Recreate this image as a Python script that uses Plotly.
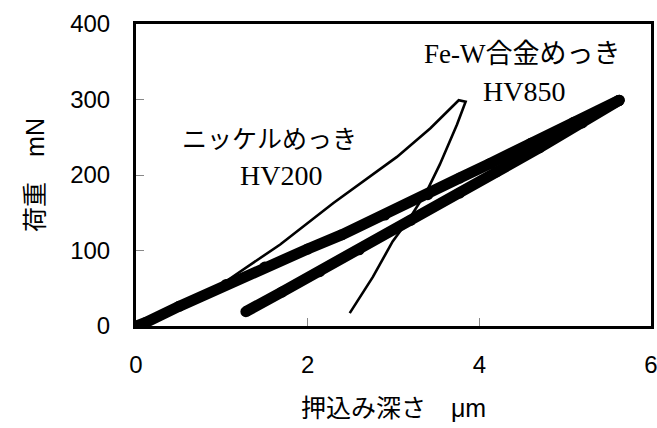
import plotly.graph_objects as go

# Fe-W alloy plating (HV850): loading / unloading
few_load_x = [0, 0.12, 0.5, 1.05, 1.5, 2.0, 2.4, 2.9, 3.4, 3.77, 4.12, 4.6, 5.1, 5.63]
few_load_y = [0, 5, 26, 55, 78, 102, 121, 147, 174, 196, 215, 242, 270, 299]
few_unload_x = [5.63, 5.2, 4.7, 4.2, 3.77, 3.2, 2.6, 2.14, 1.7, 1.28]
few_unload_y = [299, 269, 236, 204, 176, 140, 101, 72, 45, 19]

# Nickel plating (HV200): loading / unloading
ni_x = [0, 0.5, 0.85, 1.02, 1.68, 2.3, 3.04, 3.43, 3.76, 3.84,
        3.74, 3.54, 3.39, 3.19, 2.99, 2.76, 2.49]
ni_y = [0, 26, 45, 57, 108, 163, 224, 262, 299, 297,
        267, 214, 179, 143, 112, 65, 17]

x_ticks = [0, 2, 4, 6]
y_ticks = [0, 100, 200, 300, 400]

SANS = "Liberation Sans, Noto Sans CJK JP"
SERIF_JP = "Liberation Serif, Noto Sans CJK JP"

fig = go.Figure()
fig.add_trace(go.Scatter(x=ni_x, y=ni_y, mode="lines",
                         line=dict(color="black", width=2.6), showlegend=False))
fig.add_trace(go.Scatter(x=few_load_x, y=few_load_y, mode="lines+markers",
                         line=dict(color="black", width=11),
                         marker=dict(color="black", size=11), showlegend=False))
fig.add_trace(go.Scatter(x=few_unload_x, y=few_unload_y, mode="lines+markers",
                         line=dict(color="black", width=11),
                         marker=dict(color="black", size=11), showlegend=False))

fig.add_annotation(x=1.55, y=247, text="ニッケルめっき", showarrow=False,
                   font=dict(family=SERIF_JP, size=25, color="black"))
fig.add_annotation(x=1.69, y=199, text="HV200", showarrow=False,
                   font=dict(family=SERIF_JP, size=28, color="black"))
fig.add_annotation(x=4.5, y=360, text="Fe-W合金めっき", showarrow=False,
                   font=dict(family=SERIF_JP, size=27, color="black"))
fig.add_annotation(x=4.52, y=310, text="HV850", showarrow=False,
                   font=dict(family=SERIF_JP, size=28, color="black"))

fig.update_layout(
    width=657, height=428,
    margin=dict(l=136, r=6, t=24, b=102),
    paper_bgcolor="white", plot_bgcolor="white",
    font=dict(family=SANS, color="black"),
    xaxis=dict(range=[0, 6], tickvals=x_ticks, ticks="inside", ticklen=8,
               tickcolor="#888", tickwidth=1, showgrid=False, zeroline=False,
               showline=True, linecolor="black", linewidth=3, mirror=True,
               automargin=False, ticklabeloverflow="allow",
               tickfont=dict(size=24, family=SANS), ticklabelstandoff=15,
               title=dict(text="押込み深さ　μm", font=dict(size=25, family=SANS), standoff=23)),
    yaxis=dict(range=[0, 400], tickvals=y_ticks, ticks="inside", ticklen=8,
               tickcolor="#888", tickwidth=1, showgrid=False, zeroline=False,
               showline=True, linecolor="black", linewidth=3, mirror=True,
               automargin=False, ticklabeloverflow="allow",
               tickfont=dict(size=24, family=SANS), ticklabelstandoff=18,
               title=dict(text="荷重　mN", font=dict(size=25, family=SANS), standoff=19)),
)

fig.write_html("out.html", config={"displayModeBar": False},
               post_script="document.body.style.margin='0';document.body.style.padding='0';")
